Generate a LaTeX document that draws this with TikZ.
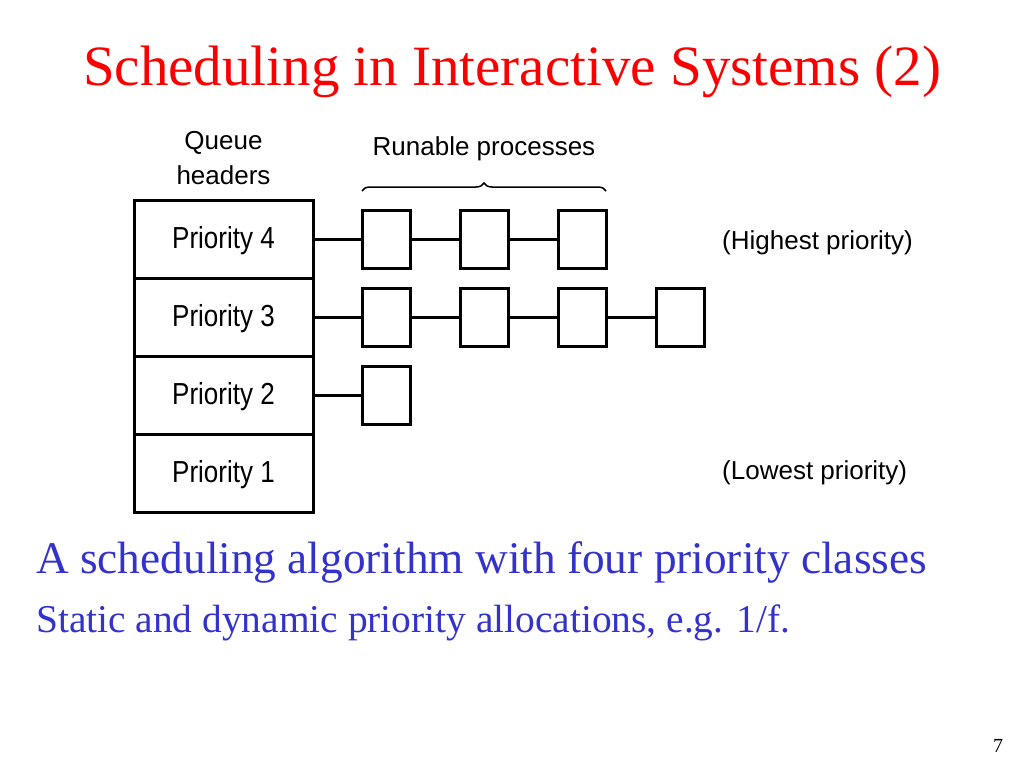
\documentclass[tikz,border=0pt]{standalone}
\usepackage{fontspec}
\setmainfont{Liberation Serif}
\setsansfont{Liberation Sans}
\usetikzlibrary{positioning,decorations.pathreplacing}
\usepackage{xcolor}
\definecolor{titlered}{RGB}{250,0,0}
\definecolor{textblue}{RGB}{51,51,204}
\newcommand{\tall}[1]{\scalebox{1}[1.17]{#1}}

\begin{document}
\begin{tikzpicture}[x=1pt, y=-1pt,
  header/.style={draw, line width=3pt, outer sep=0pt, inner sep=0pt,
                 minimum width=179pt, minimum height=78pt,
                 text height=19pt, text depth=0pt,
                 font=\fontsize{26}{30}\selectfont\sffamily},
  proc/.style={draw, line width=3pt, outer sep=0pt, inner sep=0pt,
               minimum width=48pt, minimum height=58pt},
  link/.style={line width=3pt},
  lbl/.style={inner sep=0pt, align=center,
              font=\fontsize{26}{35}\selectfont\sffamily},
  ]
  \useasboundingbox (0,0) rectangle (1024,768);

  % title
  \node[anchor=base, inner sep=0pt, text=titlered,
        font=\fontsize{57}{68}\selectfont] (title) at (512,85)
        {Scheduling in Interactive Systems (2)};

  % queue headers
  \node[header] (p4) at (223.5,239) {\tall{Priority 4}};
  \node[header, below=0pt of p4] (p3) {\tall{Priority 3}};
  \node[header, below=0pt of p3] (p2) {\tall{Priority 2}};
  \node[header, below=0pt of p2] (p1) {\tall{Priority 1}};
  \node[lbl, above=15pt of p4] (qhdr) {Queue\\headers};

  % runable processes
  \node[proc, right=49pt of p4] (q41) {};
  \node[proc, right=50pt of q41] (q42) {};
  \node[proc, right=50pt of q42] (q43) {};

  \node[proc, right=49pt of p3] (q31) {};
  \node[proc, right=50pt of q31] (q32) {};
  \node[proc, right=50pt of q32] (q33) {};
  \node[proc, right=50pt of q33] (q34) {};

  \node[proc, right=49pt of p2] (q21) {};

  \draw[link] (p4) -- (q41);
  \draw[link] (q41) -- (q42);
  \draw[link] (q42) -- (q43);
  \draw[link] (p3) -- (q31);
  \draw[link] (q31) -- (q32);
  \draw[link] (q32) -- (q33);
  \draw[link] (q33) -- (q34);
  \draw[link] (p2) -- (q21);

  \coordinate (bl) at ([yshift=19pt]q41.north west);
  \coordinate (br) at ([yshift=19pt]q43.north east);
  \draw[decorate, decoration={brace, amplitude=8pt}, line width=1.5pt] (bl) -- (br);
  \node[lbl] (runlbl) at (484,149) {Runable processes};

  \node[lbl, anchor=west] (hi) at (722,243) {(Highest priority)};
  \node[lbl, anchor=west] (lo) at (722,473) {(Lowest priority)};

  % bullet text
  \node[anchor=base west, inner sep=0pt, text=textblue,
        font=\fontsize{45.3}{54}\selectfont] (line1) at (36,573)
        {A scheduling algorithm with four priority classes};
  \node[anchor=base west, inner sep=0pt, text=textblue,
        font=\fontsize{39.4}{47}\selectfont] (line2) at (36,632)
        {Static and dynamic priority allocations, e.g. 1/f.};

  \node[anchor=base, inner sep=0pt, font=\fontsize{20}{24}\selectfont] (pnum) at (998,752) {7};
\end{tikzpicture}
\end{document}
